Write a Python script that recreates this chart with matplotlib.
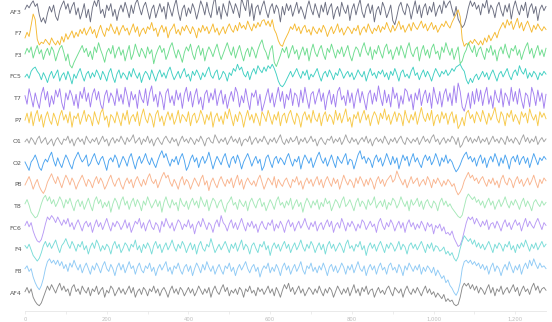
import matplotlib
matplotlib.use("Agg")
import matplotlib.pyplot as plt
import numpy as np

# canales EEG (14, tipo Emotiv), un punto cada 5 muestras
canales = ["AF3", "F7", "F3", "FC5", "T7", "P7", "O1",
           "O2", "P8", "T8", "FC6", "F4", "F8", "AF4"]

AF3 = [10, 25, 15, 30, 40, 20, 30, -10, -35, -20, -40, -5, 20, 0, 25, -15,
       -30, 5, 25, 40, 10, 30, -5, 20, 35, -10, 15, -25, 0, 30, -20, 10,
       -35, 15, 40, 20, 50, -5, 10, -20, 25, 5, 30, -15, 10, -30, 5, 25,
       0, 35, 10, -20, 25, -5, 30, 45, 15, -10, 20, 35, 5, -25, 10, 25,
       -20, 5, 30, 0, 20, -25, 35, 10, -15, 20, 45, 0, -30, 10, 25, -15,
       15, -5, 30, 10, -25, 5, 40, 20, -10, 35, 0, -20, 25, 55, -10, 20,
       -25, 30, 5, -15, 40, 20, -5, 30, 10, -20, 50, 25, 5, 60, -15, 30,
       -30, 15, 25, -10, 20, 40, 5, -20, 15, 30, -5, 25, 10, -35, 20, -10,
       30, 5, 25, -15, 10, 35, -5, 20, 0, -25, 15, 40, 10, -10, 30, 5,
       -20, 25, 0, 35, -10, 15, 30, -25, 5, 20, -15, 35, 10, -5, 25, -30,
       10, 30, -10, 20, 45, 0, -20, 15, 30, -5, 25, -35, 5, 20, -10, 35,
       15, -20, 0, 25, -30, -45, -15, 20, 35, 5, -10, 30, 15, -25, 10, 40,
       -5, 25, -20, 15, 30, -10, 20, 0, 35, -15, 10, 25, -5, 40, 15, 30,
       40, 10, -15, 20, -25, -40, -55, -45, -20, 15, 40, 20, 35, 10, 25, -10,
       30, 15, 45, -5, 25, 10, -20, 20, 35, 5, -15, 25, 0, 30, -25, 15,
       40, 10, -10, 25, 5, 35, -20, 15, 30, -5, 20, -30, 10, 25, 5, 20]
F7 = [-15, 5, -10, 30, 70, 50, -20, -40, -30, -35, -20, -30, -40, -15, -30, -40,
      -25, -40, -10, -30, 0, -20, -5, 10, -15, 5, -10, 15, 0, 20, -5, 10,
      25, 0, 15, -15, 10, 30, 5, -10, 20, 10, 35, 15, 0, 25, -5, 15,
      30, 10, 20, -5, 15, 35, 5, 25, -10, 10, 20, 0, 25, 15, 40, 10,
      20, -10, 15, 30, 5, 25, -15, 10, 20, 35, 0, 15, -5, 25, 10, 30,
      15, 0, 25, 10, -15, 20, 5, 30, 10, 25, 0, 15, 35, 5, 20, -5,
      10, 25, 0, 20, 35, 15, 5, 30, 10, 40, 20, 30, 15, 45, 25, 10,
      35, 20, 40, 25, 45, 50, 30, 45, 25, 50, 15, 0, -25, -40, -45, -25,
      -10, 5, 25, 15, 35, 10, 25, 0, 20, 30, 5, 15, -5, 25, 10, 0,
      20, 5, 30, 15, -10, 10, 25, 0, 15, 35, 5, 20, -5, 10, 25, 15,
      0, 20, 10, 30, -5, 15, 25, 5, 35, 15, 0, 20, 10, 30, 5, 25,
      15, 40, 20, 5, 30, 10, 25, 45, 15, 30, 5, 20, 35, 10, 40, 25,
      15, 30, 45, 20, 35, 10, 25, 40, 15, 30, 5, 20, 35, 25, 45, 30,
      20, 40, 55, 70, 85, 60, -20, -45, -35, -40, -25, -35, -20, -30, -40, -25,
      -40, -15, -30, -5, -25, -10, 5, -15, 10, 25, 40, 20, 50, 30, 45, 15,
      35, 55, 20, 40, 10, 30, 45, 25, 5, 30, 15, 35, 20, 10, 25, 15]
F3 = [5, 25, 10, 30, -10, 15, 35, 5, 20, -15, 10, 25, 0, 30, 15, -20,
      5, 25, 35, 10, -20, 5, -35, -45, -25, -10, 5, 20, 35, 10, 25, -5,
      15, -15, 30, 10, 45, 20, 0, -25, 10, 25, 5, 35, -10, 15, 30, 0,
      20, -20, 10, 35, -15, 5, 40, 15, -5, 25, 10, -10, 30, 5, 20, -30,
      0, 20, 35, 10, 25, -15, 5, 30, 45, 15, -10, 20, 0, -25, 10, 30,
      15, 40, 5, -15, 20, 35, 0, 25, -20, 10, 30, 15, -5, 20, 40, 10,
      -15, 5, 25, 45, 20, 0, 30, -10, 15, 35, 5, -20, 10, 25, -5, 30,
      15, -10, 20, 40, 55, 25, 10, -15, 20, 35, -25, -40, -20, 0, 25, 10,
      30, -10, 15, 35, 5, 20, -15, 10, 30, 0, 25, -20, 15, 40, 10, -5,
      20, 35, 5, -15, 25, 10, 40, 15, -10, 20, 5, 30, -5, 15, 35, 0,
      -20, 10, 30, 20, -5, 25, 45, 15, 0, 30, -15, 20, 5, 35, 10, -10,
      25, 40, 5, 20, -15, 10, 30, 0, 35, 15, -10, 25, 45, 10, -5, 20,
      30, -20, 15, 35, 0, 20, -10, 25, 40, 5, 15, -15, 30, 10, 45, 20,
      0, 25, -15, 10, 30, -30, -20, 5, 20, 45, 25, 10, 35, -5, 20, 30,
      5, -15, 25, 10, 35, 0, 20, -20, 15, 30, 5, 40, 10, -10, 25, 15,
      35, 0, 20, -15, 10, 30, 45, 5, 25, -10, 15, 35, 0, 20, -5, 25]
FC5 = [0, 10, -5, 20, 30, 35, 20, 10, -10, 15, 0, -20, 5, 20, -5, 10,
       25, -15, 5, 15, -10, 20, 0, -25, 10, -5, 15, 30, 5, -15, 10, 20,
       -5, 15, 0, 25, 10, -10, 20, 5, -15, 15, 30, 0, -20, 10, 25, -5,
       15, 5, -10, 20, 0, 30, 10, -5, 15, -20, 5, 20, 10, -10, 25, 5,
       -15, 10, 25, 0, 15, -5, 20, 35, 10, -10, 5, 20, -5, 15, 30, 0,
       10, -15, 20, 5, 25, 10, -10, 15, 0, 20, 35, 5, -5, 15, 25, -10,
       0, 20, 10, -15, 15, 5, 30, 20, 45, 25, 35, 10, 0, 20, -10, 15,
       30, 10, 40, 25, 15, 35, 20, 40, 30, 45, 30, 10, -15, -30, -35, -25,
       -10, 5, 20, 0, 15, 30, 10, -5, 20, 5, 25, -10, 10, 0, 15, 30,
       5, -15, 10, 20, 0, 25, 10, -10, 15, 5, 30, 15, -5, 10, 20, 0,
       15, -10, 5, 25, 10, 0, 20, -15, 10, 30, 5, 15, -5, 20, 10, 25,
       0, 15, -10, 20, 5, 30, 10, -15, 15, 25, 0, 10, -5, 20, 35, 5,
       15, -10, 10, 25, 0, 20, 5, -15, 10, 30, 15, 0, 20, 10, 25, 5,
       15, 30, 20, 35, 40, 45, 30, 20, -10, -25, -5, -20, 0, 10, -10, 5,
       20, 0, 15, -10, 10, 25, 5, -15, 10, 20, 0, 15, 30, 5, -10, 15,
       25, 5, 40, 20, 10, 30, -5, 15, 0, 20, 10, -10, 15, 5, 20, 10]
T7 = [10, -20, 35, 5, -30, 20, -10, -35, 15, 40, -5, 25, -30, 10, -20, 30,
      5, 35, -15, -40, 20, -5, 30, 10, -25, 15, -35, 25, 0, 40, -10, 20,
      -30, 15, 35, -5, 25, -20, -40, 10, 30, -15, 20, 5, -25, 35, -10, 15,
      -20, 40, 10, -30, 25, -5, 15, -35, 30, 0, -15, 35, -25, 20, 45, -10,
      15, -30, 25, 5, -40, 20, 35, -15, 10, -25, 30, -5, 20, -35, 15, 40,
      -10, 25, -30, 10, 35, -20, 5, -40, 15, 30, -15, 20, -5, 35, -25, 10,
      30, -20, 15, -35, 0, 25, -10, 40, 20, -30, 10, -15, 35, -5, -40, 20,
      5, 30, -25, 15, -45, -20, 10, 35, -15, 20, -30, 5, 40, -10, 25, -35,
      15, -5, 35, -25, 20, 10, -30, 30, -15, 40, 0, -35, 15, 25, -20, 10,
      35, -10, 20, -40, 5, 30, -20, 15, -30, 25, 40, -5, 10, -25, 30, -15,
      20, -35, 10, 35, -15, 25, -5, -40, 15, 30, -20, 20, -10, 45, 5, -25,
      30, -15, 15, -30, 40, 0, 20, -35, 10, -20, 35, 25, -10, 15, -40, 20,
      -5, 35, -25, 10, 30, -15, 20, -35, 40, 5, -20, 25, -30, 15, 35, -10,
      20, -25, 45, -15, 55, 25, -30, -45, -15, 20, -35, 25, -20, 35, -10, 30,
      -25, 15, 40, -20, 10, -35, 30, 0, -15, 35, -30, 20, 5, -25, 40, -10,
      25, -20, 35, -5, -35, 20, 10, -30, 40, 15, -25, 30, -10, 20, -35, 15]
P7 = [0, 25, -10, 30, -20, 15, 35, -5, 20, -25, 10, 30, 0, -15, 25, 5,
      -20, 15, 35, 0, 20, -10, 30, -25, 15, 5, 25, -15, 10, 35, -5, 20,
      10, -20, 30, 5, -15, 25, 40, 0, 15, -25, 20, 10, -10, 30, 5, -20,
      25, 0, 35, -15, 10, 20, -5, 30, -20, 15, 40, 5, -10, 25, 10, -25,
      20, 35, -5, 15, -20, 10, 30, 0, 25, -15, 5, 35, -10, 20, 10, -5,
      30, -20, 15, 25, -10, 5, 35, 15, -15, 20, 0, 30, -25, 10, 25, -5,
      15, -15, 30, 5, 40, 10, -20, 20, -5, 30, 15, -25, 10, 35, 0, 20,
      -10, 25, 5, -20, 30, 15, -5, 35, 10, -15, 20, 0, 30, -20, 15, 25,
      -10, 20, 35, 5, -15, 25, 10, -25, 15, 30, 0, 20, -10, 35, 5, -5,
      25, -20, 15, 30, -5, 20, 10, -15, 35, 0, 25, -10, 15, 40, -5, 10,
      -25, 20, 5, 30, -10, 15, 35, 0, 20, -20, 10, 30, 15, -15, 25, 5,
      40, 0, 20, -15, 10, 30, -5, 25, 15, -20, 35, 5, -10, 20, 0, 30,
      -15, 15, 45, 10, -5, 25, 0, 35, -20, 10, 20, -10, 30, 5, 25, -15,
      15, 30, -10, 20, -30, -15, 10, -20, 25, 35, 5, 20, -10, 30, 15, -5,
      35, 10, -15, 25, 0, 20, 45, 5, -10, 30, 15, -20, 25, 10, 35, -5,
      20, 5, -15, 30, 10, 25, -10, 40, 15, 0, 20, -20, 30, 10, 25, 5]
O1 = [0, 10, -5, 15, 5, -10, 10, 20, -5, 5, 15, -10, 0, 10, -15, 5,
      15, 0, -10, 10, 5, 20, -5, 10, -15, 5, 15, 0, 10, -10, 20, 5,
      -5, 10, 0, 15, -10, 5, 20, 0, 10, -15, 5, 15, -5, 10, 0, 20,
      5, -10, 15, 0, 10, 25, -5, 5, 15, -10, 10, 0, 20, -5, 10, -15,
      5, 15, 0, -10, 10, 20, 5, -5, 15, 0, 10, -15, 5, 20, 0, 10,
      -5, 15, 5, -10, 10, 0, 20, 5, -15, 10, 15, 0, -5, 25, 10, -5,
      10, 0, 15, -10, 5, 20, 0, 10, -5, 15, -15, 5, 10, 0, 20, -10,
      5, 15, -5, 10, 0, 20, 5, -10, 10, 0, 15, -5, 10, 25, 0, -10,
      10, -5, 15, 0, 5, 20, -10, 10, 0, 15, -5, 5, 20, 0, 10, -15,
      5, 15, 0, -10, 10, 5, 20, -5, 10, 0, 15, -10, 5, 25, 5, -5,
      15, 0, 10, -10, 5, 15, 0, 20, -5, 10, -15, 5, 15, 0, 10, -5,
      20, 5, -10, 10, 0, 15, -5, 10, 20, 0, -10, 15, 5, -5, 10, 0,
      15, -10, 5, 20, 0, 10, -5, 15, 25, 0, 10, -10, 5, 15, -5, 10,
      0, 20, 10, -10, 15, -20, -10, 10, 20, 0, 15, -5, 10, 0, 20, -5,
      10, 0, 15, -10, 5, 20, 0, 10, -5, 15, 5, -10, 20, 0, 10, -5,
      15, 5, -10, 10, 25, 0, 15, -5, 10, 0, 20, -10, 5, 15, 0, 10]
O2 = [5, -10, -25, 5, 15, 30, 10, -15, -25, 0, 15, 5, 25, 40, 10, -10,
      20, 0, -15, 10, 30, 15, -5, -20, 10, 25, 40, 20, 5, 15, 30, -10,
      0, 20, 35, 10, -5, 15, 25, 0, -25, 10, 20, 5, 30, 15, -15, 5,
      25, 10, -10, 20, 35, 5, -20, 10, 25, 0, 15, 35, 10, -5, 20, 0,
      -15, 10, 30, 45, 20, 35, 10, -10, 15, 5, 25, -5, 20, 35, 10, -25,
      -10, 15, 30, 5, 20, -15, 10, 25, 0, 15, 40, 10, -20, 5, 25, 10,
      -5, 20, 35, 5, -15, 15, 25, 0, 30, 10, -20, 5, 20, 35, 15, -10,
      10, 25, 0, 15, -25, -10, 20, 30, 5, -15, 15, 25, 0, 20, 10, -5,
      20, 35, 10, -10, 15, 5, 25, -20, 10, 30, 15, 0, 20, -15, 5, 25,
      40, 15, 0, 20, -10, 10, 30, 5, -15, 25, 10, 0, 20, 35, -5, 15,
      10, -20, 5, 30, 45, 15, 25, 0, 20, 10, -15, 15, 30, 5, 20, -10,
      10, 35, 15, -5, 25, 0, 20, -20, 5, 30, 10, 25, -10, 15, 35, 5,
      20, 0, -15, 15, 30, 10, 25, -5, 10, 35, 15, -10, 20, 5, 30, 0,
      15, 5, -15, -30, -20, -5, 15, 30, 40, 15, 25, 5, 20, -10, 15, 30,
      0, 20, -15, 10, 25, 5, 35, 15, -10, 20, 0, 30, 10, -20, 15, 25,
      5, 30, -5, 15, 25, 0, 20, -15, 10, 35, 15, -5, 20, 10, 25, 15]
P8 = [0, 15, 30, 10, -15, 5, 20, -5, -20, -30, -15, 10, 25, 40, 20, 5,
      30, 10, -10, 15, 35, 20, 0, 25, 10, -15, 5, 20, 35, 15, -5, 20,
      10, -10, 15, 30, 5, 25, 10, -15, 0, 20, 35, 10, -5, 15, 25, 0,
      -15, 10, 25, 5, 20, -10, 15, 30, 10, -5, 20, 0, 25, 40, 15, 5,
      20, -10, 10, 30, 45, 25, 35, 10, -5, 20, 5, -15, 15, 30, 0, 20,
      10, -15, 5, 25, 10, -5, 20, 35, 0, 15, -20, 10, 25, 5, -10, 15,
      30, 10, -5, 20, 5, 25, -10, 15, 35, 0, 20, -15, 10, 25, 10, 0,
      15, -5, 20, 35, 10, -15, 5, 25, 15, 0, 30, -10, 20, 5, -5, 15,
      25, 5, -10, 20, 10, 30, 0, 15, -15, 10, 25, 5, 20, -5, 15, 30,
      0, 20, -10, 15, 30, 10, -5, 25, 5, 20, -15, 10, 35, 15, 0, 20,
      10, -10, 25, 5, 30, 15, -5, 20, 0, 25, 10, -15, 15, 30, 5, 20,
      -5, 15, 25, 35, 10, 20, 50, 30, 15, 0, 20, -10, 10, 30, 5, 15,
      25, -5, 10, 20, 0, 30, 15, -10, 20, 5, 25, 10, -5, 15, 0, 20,
      10, -5, 5, -20, -35, -25, -10, 15, 30, 45, 25, 35, 15, 25, 5, 20,
      30, 10, -5, 20, 5, 25, 0, 15, -10, 20, 35, 10, 0, 25, 15, -10,
      15, 30, 5, 20, -5, 10, 25, 0, 15, 35, 10, -10, 20, 5, 25, 15]
T8 = [10, 25, 5, -20, -30, -40, -35, -15, 10, 30, 40, 20, 35, 10, 25, 0,
      15, 35, 20, -5, 25, 10, 30, 5, -15, 15, 25, 0, 20, -10, 10, 30,
      5, -15, 20, 35, 10, 25, -5, 15, 0, 20, -20, 10, 30, 15, -10, 20,
      35, 5, 20, -10, 15, 30, 0, 25, 10, -15, 20, 5, 35, 15, -5, 10,
      25, 0, 20, -20, 15, 35, 10, -5, 25, 5, 15, -15, 30, 10, 0, 20,
      -10, 15, 30, 5, 20, -5, 35, 15, 0, 25, -15, 10, 30, 20, -5, 15,
      25, 0, -20, 10, 20, 35, 5, 15, -10, 25, 10, 0, 20, -15, 15, 30,
      10, -5, 20, 30, 0, 15, -15, 5, 25, 10, -10, 20, 35, 5, 15, -5,
      20, 5, 30, -10, 10, 25, 0, 15, -20, 10, 30, 15, -5, 20, 5, 25,
      -10, 15, 0, 30, 10, 20, -15, 5, 25, 15, -5, 20, 35, 0, 10, 25,
      5, -15, 15, 30, 0, 20, 10, -10, 25, 5, 15, 35, -5, 10, 20, 0,
      25, -10, 15, 5, 30, 20, -5, 10, 35, 15, 0, 20, -15, 25, 5, 15,
      30, 0, 20, -10, 15, 25, 5, -5, 20, 10, -15, 15, 30, 5, 20, 0,
      10, -5, -15, -25, -35, -40, -30, 0, 30, 45, 35, 25, 35, 15, 25, 5,
      20, -5, 15, 30, 5, 20, -10, 10, 25, 0, 15, 35, 10, -5, 20, 5,
      25, 10, -10, 15, 30, 0, 20, 5, -15, 15, 25, 10, 0, 20, 5, 15]
FC6 = [10, 25, 5, 20, -10, -30, -45, -50, -40, -15, 15, 40, 30, 45, 35, 20,
       40, 25, 10, 30, 15, 35, 5, 20, -5, 15, 30, 10, -10, 15, 25, 5,
       20, -15, 10, 30, 5, 20, -5, 15, 35, 10, -10, 20, 5, 25, 15, -5,
       10, 30, 0, 20, -15, 5, 25, 15, 35, 0, 20, -10, 15, 30, 5, -5,
       20, 10, -15, 25, 5, 35, 15, 0, 20, -10, 10, 30, 20, -5, 15, 5,
       30, 0, 15, -20, 10, 25, 5, 35, 15, -5, 20, 10, -15, 15, 30, 5,
       45, 20, 10, -10, 15, 30, 0, 20, -5, 15, 35, 10, -10, 20, 5, 25,
       0, 15, -15, 10, 25, 5, -5, 20, 10, 30, -10, 15, 0, 25, 10, -15,
       15, 30, 5, 20, -10, 10, 25, 0, 15, 35, 10, -5, 20, 5, 25, -10,
       10, 20, -5, 15, 30, 5, 25, -15, 10, 20, 0, 35, 15, -10, 20, 5,
       25, 10, -10, 15, 0, 30, 20, -5, 10, 25, 5, 15, -15, 20, 35, 10,
       -5, 20, 5, 30, 15, -10, 10, 25, 0, 20, -15, 15, 30, 5, 20, -5,
       15, 0, 25, 10, -10, 20, 5, 15, -20, 10, 0, 15, -10, 5, -20, -15,
       -25, -10, -35, -50, -65, -60, -40, -10, 20, 40, 30, 40, 15, 35, 20, 5,
       25, 10, 30, -5, 15, 20, 0, 25, 10, -10, 15, 30, 5, 20, -5, 15,
       30, 10, 20, -10, 15, 35, 5, 25, 10, 0, 20, 35, 15, -5, 20, 10]
F4 = [15, 5, 20, 0, -20, -30, -40, -30, -10, 15, 30, 10, 25, 5, 20, 35,
      10, -10, 15, 25, 40, 20, 5, 30, 15, -5, 20, 10, 30, 0, 15, -15,
      10, 25, 5, 35, 20, -5, 15, 0, 20, 10, -15, 15, 30, 5, 20, -10,
      5, 25, 15, -5, 20, 10, 35, 0, 15, -10, 20, 5, 25, 10, -15, 15,
      30, 5, 20, -10, 10, 25, 0, 15, 35, 10, -5, 20, 5, 30, 15, -10,
      10, 25, 0, 20, -15, 15, 30, 5, -5, 20, 10, 40, 15, -10, 5, 20,
      0, 15, 30, 10, -10, 20, 5, 25, -5, 15, 35, 0, 20, 10, -15, 15,
      25, 5, -10, 20, 10, 30, 0, 15, -20, 10, 25, 5, 20, -5, 15, 30,
      5, 20, -10, 10, 25, 0, 15, 35, 10, -5, 20, 5, 30, 15, -10, 10,
      25, 0, 20, -15, 15, 30, 5, 20, -5, 10, 25, 10, -10, 20, 35, 5,
      15, -5, 20, 10, 30, 0, 15, -20, 10, 25, 5, 20, -5, 15, 30, 10,
      -10, 20, 5, 25, 15, -5, 10, 30, 0, 20, 10, -15, 15, 25, 5, 20,
      0, 15, 30, 10, -10, 20, 5, 25, -5, 15, 10, -5, 0, 10, -15, -5,
      -20, -10, -30, -40, -25, 5, 30, 50, 40, 30, 40, 20, 35, 10, 25, 5,
      20, 0, 15, 30, 10, -10, 20, 5, 25, 15, -5, 20, 10, 30, 0, 15,
      -10, 20, 5, 25, 10, 35, 15, -5, 20, 5, 25, 0, 15, 30, 10, 20]
F8 = [10, 20, 0, 10, -20, -40, -55, -65, -50, -25, 10, 35, 45, 30, 40, 25,
      40, 20, 35, 10, 25, 0, 30, 15, 40, 20, 5, 25, -5, 15, 30, 10,
      -10, 20, 5, 30, 15, -5, 20, 35, 10, 0, 25, 10, -15, 15, 30, 5,
      25, -5, 15, 35, 10, 20, -10, 15, 30, 5, -5, 20, 10, 30, 0, 15,
      -15, 10, 25, 5, 20, 35, 0, 15, -10, 20, 10, 30, 5, -10, 15, 25,
      0, 20, -15, 10, 30, 15, -5, 25, 5, 35, 15, 0, 20, -10, 10, 25,
      5, -10, 20, 10, 30, 0, 15, -15, 10, 25, 5, 20, 35, 10, -5, 15,
      25, 0, 15, -20, 5, 20, 10, 30, -5, 15, 0, 25, 10, -15, 15, 30,
      5, 20, -10, 10, 25, 0, 15, 35, 5, -10, 20, 10, 30, 0, 15, -5,
      20, 5, 30, 10, -15, 15, 25, 0, 20, -5, 10, 30, 15, -10, 20, 5,
      25, -5, 15, 35, 10, 0, 20, -15, 10, 25, 5, 20, -10, 15, 30, 5,
      15, -10, 20, 30, 5, 15, -5, 25, 10, -15, 20, 5, 30, 15, 0, 20,
      5, 25, -10, 15, 0, 20, 10, -5, 15, -15, 5, -10, -25, -15, -40, -30,
      -50, -60, -75, -85, -70, -40, 10, 35, 40, 30, 40, 25, 35, 20, 30, 10,
      25, 5, 20, -10, 15, 30, 0, 20, 10, -15, 10, 25, 5, 35, 15, -5,
      20, 5, 25, -10, 15, 30, 10, 40, 20, 45, 25, 10, 30, 15, 20, 10]
AF4 = [5, 20, 0, 15, -15, -30, -40, -45, -35, -15, 5, 25, 10, 30, 15, 0,
       20, 35, 10, 25, 5, 15, -10, 20, 30, 5, 15, -5, 25, 10, 0, 20,
       -10, 15, 5, 25, -5, 10, 20, -15, 10, 0, 25, 15, -10, 5, 20, 0,
       15, -5, 10, 25, 0, 20, -15, 5, 15, -5, 20, 10, -10, 15, 5, 25,
       0, 15, -10, 10, 20, 5, -15, 10, 25, 0, 15, -5, 20, 10, -10, 5,
       20, 0, 15, -10, 5, 25, 10, -5, 15, 0, 20, -15, 10, 25, 5, -5,
       15, 30, 5, 20, -10, 10, 0, 15, -5, 20, 10, -15, 15, 5, 25, 0,
       10, -10, 20, 5, 15, -5, 10, 25, 0, 15, -10, 20, 5, -15, 10, 30,
       15, 35, 5, 20, -5, 10, 25, 0, 15, -10, 5, 20, 10, -5, 15, 0,
       25, 5, -10, 15, 0, 20, 10, -15, 5, 25, 10, -5, 15, 0, 20, -10,
       10, 30, 0, 15, -10, 20, 5, 25, -5, 10, 15, -15, 5, 20, 0, 10,
       -5, 15, 25, 5, -10, 20, 10, 0, 15, -15, 10, 25, 5, -5, 15, 0,
       20, 5, -10, 10, 25, 0, 15, -5, 5, -15, 0, -10, -20, -5, -30, -20,
       -30, -25, -40, -45, -40, -15, 20, 35, 25, 35, 15, 30, 10, 25, 0, 20,
       10, -5, 15, 30, 0, 20, -10, 15, 5, 25, -5, 10, 20, 0, 15, 30,
       5, 20, -10, 10, 25, 5, 15, -5, 20, 35, 10, 25, 0, 15, 20, 10]

senales = [AF3, F7, F3, FC5, T7, P7, O1, O2, P8, T8, FC6, F4, F8, AF4]
colores = ["#6b6e80", "#f5b931", "#6ddc8e", "#3fcfc2", "#a27ff0", "#f7c948",
           "#a3a3a3", "#4aa3ef", "#f9b48e", "#a5e8b8", "#b89af5", "#79dcd8",
           "#8fcaf5", "#8a8a8a"]

paso = 5          # muestras entre puntos
separacion = 100  # distancia vertical entre canales
ganancia = 1.3    # escala vertical de las señales

fig = plt.figure(figsize=(5.52, 3.22), dpi=100)
ax = fig.add_axes([25 / 552, 1 - 311 / 322, 521 / 552, 308 / 322])

for k, (nombre, valores, color) in enumerate(zip(canales, senales, colores)):
    y = np.array(valores) * ganancia - k * separacion
    x = np.arange(len(valores)) * paso
    ax.plot(x, y, color=color, lw=0.65, clip_on=False)
    ax.text(-8, -k * separacion, nombre, ha="right", va="center",
            fontsize=4.5, color="#555555")

ax.set_xlim(0, 1275)
ax.set_ylim(-13 * separacion - 83, 42)

# solo eje x abajo
for lado in ["top", "right", "left"]:
    ax.spines[lado].set_visible(False)
ax.spines["bottom"].set_color("#e6e6e6")
ax.spines["bottom"].set_linewidth(0.6)
ax.set_yticks([])
ax.set_xticks(np.arange(0, 1201, 200))
ax.set_xticklabels(["0", "200", "400", "600", "800", "1,000", "1,200"])
ax.set_xticks(np.arange(0, 1201, 100), minor=True)
ax.tick_params(axis="x", which="both", length=2, width=0.5, color="#e6e6e6",
               labelsize=3.8, labelcolor="#bdbdbd", pad=2)
ax.set_facecolor("white")

fig.savefig("out.png", dpi=100)
plt.close(fig)
